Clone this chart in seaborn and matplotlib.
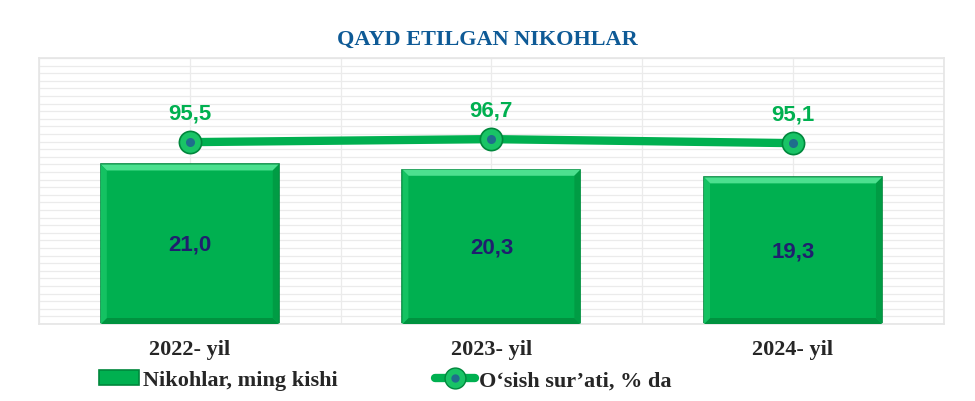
import numpy as np
import pandas as pd
import matplotlib.pyplot as plt
import seaborn as sns
from matplotlib.patches import Patch, Polygon
from matplotlib.lines import Line2D

plt.switch_backend('Agg')

# data
years = ["2022- yil", "2023- yil", "2024- yil"]
marriages = [21.0, 20.3, 19.3]        # ming kishi
growth = [95.5, 96.7, 95.1]           # % da

bar_labels = ["21,0", "20,3", "19,3"]
line_labels = ["95,5", "96,7", "95,1"]

GREEN = "#00B050"
DARK_GREEN = "#00873C"
NAVY = "#1F1F6E"
TITLE_BLUE = "#0E5A96"

sns.set_theme(style="white")
plt.rcParams['font.family'] = ['Liberation Sans', 'DejaVu Sans']

df = pd.DataFrame({"year": years, "marriages": marriages, "growth": growth})
df["pos"] = np.arange(len(df))

fig = plt.figure(figsize=(9.75, 4.02), dpi=100)
ax = fig.add_axes([0.04, 0.1915, 0.928, 0.6615])

# light grid like the excel chart background
for y in range(0, 36):
    ax.axhline(y, color="#EBEBEB", lw=0.9, zorder=0)
for x in np.arange(-0.5, 2.6, 0.5):
    ax.axvline(x, color="#EBEBEB", lw=0.9, zorder=0)

sns.barplot(data=df, x="year", y="marriages", ax=ax, color=GREEN,
            width=0.59, edgecolor=DARK_GREEN, linewidth=1.2, saturation=1, zorder=2)
ax.set_xlim(-0.5, 2.5)
ax.set_ylim(0, 35)

# simple bevel on each bar (excel style)
fig.canvas.draw()
bbox = ax.get_window_extent()
bx = 6 / bbox.width * 3.0
by = 6 / bbox.height * 35.0
for bar in list(ax.patches):
    x0, y0 = bar.get_x(), bar.get_y()
    x1, y1 = x0 + bar.get_width(), y0 + bar.get_height()
    faces = [
        ([(x0, y1), (x1, y1), (x1 - bx, y1 - by), (x0 + bx, y1 - by)], "#4CE08F"),
        ([(x0, y0), (x1, y0), (x1 - bx, y0 + by), (x0 + bx, y0 + by)], "#00923F"),
        ([(x0, y0), (x0, y1), (x0 + bx, y1 - by), (x0 + bx, y0 + by)], "#14C262"),
        ([(x1, y0), (x1, y1), (x1 - bx, y1 - by), (x1 - bx, y0 + by)], "#009C44"),
    ]
    for pts, c in faces:
        ax.add_patch(Polygon(pts, closed=True, facecolor=c, edgecolor="none", zorder=3))

for p, lab in zip(df["pos"], bar_labels):
    ax.text(p, df["marriages"][p] * 0.5, lab, ha="center", va="center",
            fontsize=16, fontweight="bold", color=NAVY, zorder=5)

ax.set_yticks([])
ax.set_xlabel("")
ax.set_ylabel("")
ax.tick_params(axis="x", length=0, pad=11)
ax.set_xticks(df["pos"])
ax.set_xticklabels(years, fontsize=16, fontweight="bold", family="Liberation Serif")
for s in ax.spines.values():
    s.set_color("#E6E6E6")

# growth rate on a secondary axis
ax2 = ax.twinx()
sns.lineplot(data=df, x="pos", y="growth", ax=ax2, color=GREEN, lw=6,
             marker="o", markersize=16, markerfacecolor="#19C466",
             markeredgecolor=DARK_GREEN, markeredgewidth=1.2, zorder=4)
ax2.scatter(df["pos"], df["growth"], s=30, color="#1F6E8C", zorder=6)
ax2.set_ylim(23, 129)
ax2.set_xlim(-0.5, 2.5)
ax2.set_yticks([])
ax2.set_ylabel("")
ax2.set_xlabel("")
for s in ax2.spines.values():
    s.set_visible(False)

for p, lab in zip(df["pos"], line_labels):
    ax2.annotate(lab, (p, df["growth"][p]), xytext=(0, 21), textcoords="offset points",
                 ha="center", va="center", fontsize=16, fontweight="bold", color=GREEN)

fig.text(0.5, 1 - 40 / 402, "QAYD ETILGAN NIKOHLAR", ha="center", va="center",
         fontsize=16, fontweight="bold", color=TITLE_BLUE, family="Liberation Serif")

handles = [
    Patch(facecolor=GREEN, edgecolor=DARK_GREEN, linewidth=1.2),
    (Line2D([0], [0], color=GREEN, lw=6, marker="o", markersize=15,
            markerfacecolor="#19C466", markeredgecolor=DARK_GREEN),
     Line2D([0], [0], lw=0, marker="o", markersize=5, color="#1F6E8C")),
]
fig.legend(handles, ["Nikohlar, ming kishi", "O\u2018sish sur\u2019ati, % da"],
           loc="center left", bbox_to_anchor=(0.102, 1 - 381 / 402), ncol=2,
           frameon=False, handlelength=1.8, handleheight=0.7, handletextpad=0.15,
           columnspacing=4.4, borderaxespad=0, borderpad=0,
           prop={"family": "Liberation Serif", "weight": "bold", "size": 16})

fig.savefig("out.png", dpi=100)
